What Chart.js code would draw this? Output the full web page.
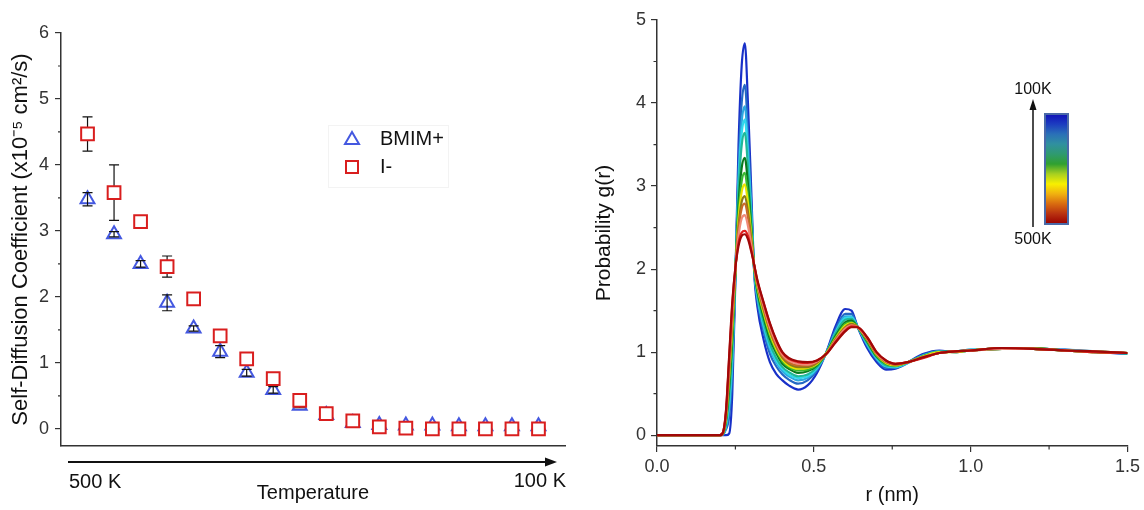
<!DOCTYPE html>
<html>
<head>
<meta charset="utf-8">
<script src="https://cdn.jsdelivr.net/npm/chart.js@4.4.1/dist/chart.umd.min.js"></script>
<style>
  html, body { margin: 0; padding: 0; background: #fff; }
  #wrap { position: relative; width: 1144px; height: 510px; }
  #diffChart { position: absolute; left: 0; top: 0; }
  #rdfChart { position: absolute; left: 580px; top: 0; }
</style>
</head>
<body>
<div id="wrap">
  <canvas id="diffChart" width="580" height="510"></canvas>
  <canvas id="rdfChart" width="564" height="510"></canvas>
</div>
<script>
// ---- left panel: self-diffusion, hot (500 K) on the left -> cold (100 K) on the right
const tempSteps = [1, 2, 3, 4, 5, 6, 7, 8, 9, 10, 11, 12, 13, 14, 15, 16, 17, 18];
const bmimD   = [3.48, 2.95, 2.50, 1.91, 1.52, 1.17, 0.85, 0.59, 0.35, 0.21, 0.09, 0.06, 0.05, 0.05, 0.04, 0.04, 0.04, 0.04];
const bmimErr = [0.10, 0.04, 0.05, 0.12, 0.04, 0.09, 0.05, 0.05, 0.03, 0.02, 0.02, 0.01, 0.01, 0.01, 0.01, 0.01, 0.01, 0.01];
const iodD    = [4.47, 3.58, 3.14, 2.46, 1.97, 1.41, 1.06, 0.76, 0.43, 0.23, 0.12, 0.03, 0.01, 0.00, 0.00, 0.00, 0.00, 0.00];
const iodErr  = [0.26, 0.42, 0.08, 0.16, 0.02, 0.08, 0.03, 0.02, 0.02, 0.02, 0.01, 0.01, 0.01, 0.01, 0.01, 0.01, 0.01, 0.01];
const diffTicks = [0, 1, 2, 3, 4, 5, 6];
const diffMinor = [0.5, 1.5, 2.5, 3.5, 4.5, 5.5];

// ---- right panel: g(r), rdf1 = 500K (dark red) ... rdf13 = 100K (dark blue)
const rNm = [0, 0.19, 0.20, 0.21, 0.22, 0.23, 0.24, 0.25, 0.26, 0.27, 0.28, 0.29, 0.30, 0.31, 0.32, 0.34, 0.36, 0.38, 0.40, 0.42,
             0.45, 0.48, 0.51, 0.54, 0.57, 0.60, 0.62, 0.64, 0.67, 0.70, 0.73, 0.76, 0.80, 0.85, 0.90, 0.95, 1.00, 1.10, 1.20, 1.30, 1.40, 1.50];
const rdf1  = [0,0,0,0.03,0.30,0.95,1.60,2.02,2.28,2.40,2.42,2.36,2.22,2.05,1.87,1.60,1.35,1.15,1.00,0.93,0.89,0.88,0.90,0.98,1.12,1.25,1.30,1.30,1.18,1.00,0.90,0.86,0.88,0.94,0.99,1.01,1.02,1.05,1.04,1.02,1.01,0.99];
const rdf2  = [0,0,0,0.03,0.29,0.92,1.57,2.02,2.32,2.44,2.46,2.40,2.24,2.05,1.86,1.59,1.34,1.14,0.99,0.92,0.88,0.87,0.90,0.98,1.13,1.26,1.31,1.30,1.18,1.00,0.90,0.86,0.88,0.93,0.99,1.01,1.02,1.05,1.04,1.02,1.00,0.99];
const rdf3  = [0,0,0,0.03,0.27,0.86,1.49,2.01,2.40,2.61,2.65,2.52,2.30,2.04,1.84,1.56,1.30,1.11,0.97,0.90,0.86,0.85,0.89,0.98,1.14,1.28,1.32,1.30,1.17,0.99,0.89,0.86,0.88,0.94,0.99,1.01,1.02,1.04,1.04,1.02,1.01,0.99];
const rdf4  = [0,0,0,0.03,0.25,0.80,1.42,2.00,2.48,2.73,2.79,2.62,2.34,2.03,1.82,1.53,1.27,1.08,0.95,0.88,0.84,0.84,0.88,0.98,1.15,1.29,1.33,1.30,1.16,0.98,0.88,0.85,0.88,0.94,0.99,1.01,1.02,1.05,1.04,1.02,1.00,0.99];
const rdf5  = [0,0,0,0.02,0.24,0.76,1.38,2.00,2.52,2.81,2.88,2.69,2.38,2.03,1.81,1.51,1.26,1.07,0.93,0.86,0.82,0.82,0.87,0.98,1.16,1.30,1.34,1.30,1.15,0.98,0.88,0.85,0.88,0.94,0.99,1.01,1.02,1.04,1.05,1.02,1.01,0.99];
const rdf6  = [0,0,0,0.02,0.22,0.71,1.31,1.99,2.60,2.93,3.02,2.79,2.42,2.02,1.79,1.48,1.23,1.04,0.91,0.84,0.80,0.81,0.86,0.99,1.17,1.32,1.35,1.30,1.15,0.97,0.87,0.84,0.88,0.95,1.00,1.00,1.02,1.05,1.04,1.02,1.00,0.99];
const rdf7  = [0,0,0,0.02,0.20,0.65,1.25,1.98,2.67,3.06,3.16,2.88,2.47,2.02,1.77,1.46,1.20,1.02,0.89,0.82,0.78,0.79,0.85,0.99,1.18,1.34,1.36,1.30,1.14,0.96,0.86,0.84,0.88,0.95,0.99,1.01,1.02,1.04,1.05,1.02,1.01,0.99];
const rdf8  = [0,0,0,0.02,0.18,0.58,1.16,1.97,2.77,3.22,3.34,3.02,2.53,2.01,1.74,1.42,1.16,0.99,0.86,0.80,0.75,0.77,0.84,0.99,1.20,1.36,1.38,1.30,1.13,0.95,0.86,0.84,0.88,0.95,1.00,1.01,1.02,1.05,1.04,1.02,1.00,0.99];
const rdf9  = [0,0,0,0.01,0.14,0.46,1.02,1.96,2.93,3.49,3.64,3.23,2.63,2.00,1.70,1.36,1.10,0.93,0.82,0.76,0.71,0.73,0.82,0.99,1.23,1.39,1.40,1.30,1.11,0.94,0.84,0.83,0.88,0.96,1.01,1.00,1.02,1.05,1.04,1.02,1.01,0.98];
const rdf10 = [0,0,0,0.01,0.12,0.39,0.94,1.95,3.01,3.63,3.80,3.34,2.69,1.99,1.68,1.33,1.07,0.90,0.80,0.73,0.69,0.71,0.81,0.99,1.24,1.41,1.42,1.30,1.10,0.93,0.83,0.82,0.87,0.96,1.00,1.01,1.03,1.04,1.05,1.02,1.00,0.99];
const rdf11 = [0,0,0,0.01,0.10,0.33,0.86,1.94,3.10,3.77,3.96,3.46,2.74,1.98,1.66,1.30,1.04,0.88,0.77,0.71,0.66,0.69,0.80,0.99,1.25,1.43,1.43,1.30,1.09,0.92,0.83,0.82,0.88,0.96,1.01,1.00,1.02,1.05,1.04,1.03,1.01,0.98];
const rdf12 = [0,0,0,0.01,0.07,0.22,0.74,1.93,3.23,4.00,4.22,3.64,2.83,1.97,1.62,1.25,0.98,0.83,0.73,0.67,0.62,0.66,0.78,1.00,1.28,1.46,1.46,1.30,1.08,0.91,0.81,0.81,0.87,0.97,1.01,1.01,1.03,1.04,1.05,1.02,1.00,0.99];
const rdf13 = [0,0,0,0,0,0.02,0.50,1.90,3.50,4.45,4.72,4.00,3.00,1.95,1.55,1.15,0.88,0.74,0.66,0.60,0.55,0.60,0.75,1.00,1.32,1.52,1.50,1.30,1.05,0.88,0.79,0.80,0.88,0.98,1.02,1.00,1.02,1.05,1.04,1.03,1.00,0.98];
const rdfCurves = [rdf1, rdf2, rdf3, rdf4, rdf5, rdf6, rdf7, rdf8, rdf9, rdf10, rdf11, rdf12, rdf13];
const rdfColors = ['#a00808', '#e02020', '#f08a78', '#c86a28', '#8a7c18', '#e8e400', '#38b830',
                   '#0a7a1e', '#20b898', '#30d8ec', '#2ca8e0', '#2468c4', '#1830c8'];
// colour key, top (100K) to bottom (500K)
const keyColors = ['#1010b8', '#1c3cc0', '#2a70b8', '#3090a0', '#2f9a70', '#30a030', '#a8d020',
                   '#f8f000', '#f0b010', '#d86a10', '#b83010', '#980000'];
const rdfTicksX = [0, 0.5, 1.0, 1.5];
const rdfMinorX = [0.25, 0.75, 1.25];
const rdfTicksY = [0, 1, 2, 3, 4, 5];
const rdfMinorY = [0.5, 1.5, 2.5, 3.5, 4.5];

Chart.defaults.font.family = '"Liberation Sans", Arial, sans-serif';
Chart.defaults.color = '#333';
const AX = '#333';

function setTicks(list) {
  return s => { s.ticks = list.map(v => ({ value: v })); };
}

function drawMinor(chart, xVals, yVals, len) {
  const { ctx, scales: { x, y } } = chart;
  ctx.save();
  ctx.strokeStyle = AX;
  ctx.lineWidth = 1.2;
  ctx.beginPath();
  (xVals || []).forEach(v => {
    const px = x.getPixelForValue(v);
    ctx.moveTo(px, x.top); ctx.lineTo(px, x.top + len);
  });
  (yVals || []).forEach(v => {
    const py = y.getPixelForValue(v);
    ctx.moveTo(y.right, py); ctx.lineTo(y.right - len, py);
  });
  ctx.stroke();
  ctx.restore();
}

function drawErrors(chart, vals, errs) {
  const { ctx, scales: { x, y } } = chart;
  ctx.save();
  ctx.strokeStyle = '#111';
  ctx.lineWidth = 1.2;
  vals.forEach((v, i) => {
    const px = x.getPixelForValue(tempSteps[i]);
    const top = y.getPixelForValue(v + errs[i]);
    const bot = y.getPixelForValue(v - errs[i]);
    ctx.beginPath();
    ctx.moveTo(px, top); ctx.lineTo(px, bot);
    ctx.moveTo(px - 5, top); ctx.lineTo(px + 5, top);
    ctx.moveTo(px - 5, bot); ctx.lineTo(px + 5, bot);
    ctx.stroke();
  });
  ctx.restore();
}

const diffExtras = {
  id: 'diffExtras',
  beforeDatasetDraw(chart, args) {
    if (args.index === 0) drawErrors(chart, iodD, iodErr);
  },
  afterDatasetDraw(chart, args) {
    if (args.index === 1) drawErrors(chart, bmimD, bmimErr);
  },
  afterDraw(chart) {
    const ctx = chart.ctx;
    drawMinor(chart, null, diffMinor, 3);
    ctx.save();
    // legend
    ctx.strokeStyle = '#f3f3f3';
    ctx.lineWidth = 1;
    ctx.strokeRect(328.5, 125.5, 120, 62);
    ctx.lineWidth = 2;
    ctx.strokeStyle = '#4458e0';
    ctx.beginPath();
    ctx.moveTo(352, 132); ctx.lineTo(359, 144); ctx.lineTo(345, 144); ctx.closePath();
    ctx.stroke();
    ctx.strokeStyle = '#d91e1e';
    ctx.strokeRect(346, 161, 12, 12);
    ctx.fillStyle = '#111';
    ctx.font = '20px "Liberation Sans", Arial, sans-serif';
    ctx.textBaseline = 'middle';
    ctx.fillText('BMIM+', 380, 139);
    ctx.fillText('I-', 380, 167);
    // temperature arrow
    ctx.strokeStyle = '#111';
    ctx.lineWidth = 2;
    ctx.beginPath();
    ctx.moveTo(68, 462); ctx.lineTo(548, 462);
    ctx.stroke();
    ctx.beginPath();
    ctx.moveTo(557, 462); ctx.lineTo(545, 457.5); ctx.lineTo(545, 466.5); ctx.closePath();
    ctx.fill();
    ctx.textAlign = 'left';
    ctx.fillText('500 K', 69, 482);
    ctx.textAlign = 'right';
    ctx.fillText('100 K', 566, 481);
    ctx.restore();
  }
};

new Chart(document.getElementById('diffChart'), {
  type: 'scatter',
  data: {
    datasets: [
      {
        label: 'I-',
        data: tempSteps.map((t, i) => ({ x: t, y: iodD[i] })),
        pointStyle: 'rect', pointRadius: 9, pointBorderWidth: 2,
        pointBorderColor: '#d91e1e', pointBackgroundColor: '#fff', order: 1
      },
      {
        label: 'BMIM+',
        data: tempSteps.map((t, i) => ({ x: t, y: bmimD[i] })),
        pointStyle: 'triangle', pointRadius: 8, pointBorderWidth: 2,
        pointBorderColor: '#4458e0', pointBackgroundColor: '#fff', order: 2
      }
    ]
  },
  options: {
    responsive: false, animation: false, devicePixelRatio: 1,
    layout: { padding: { top: 33, right: 15, left: 0, bottom: 0 } },
    plugins: { legend: { display: false }, tooltip: { enabled: false } },
    scales: {
      x: {
        type: 'linear', min: 0, max: 19,
        ticks: { display: false },
        grid: { display: false },
        border: { display: true, color: AX, width: 1.5 },
        title: { display: true, text: 'Temperature', color: '#111', font: { size: 20 }, padding: { top: 0, bottom: 5 } },
        afterFit: s => { s.height = 64; }
      },
      y: {
        min: -0.26, max: 6,
        afterBuildTicks: setTicks(diffTicks),
        ticks: { font: { size: 18 }, padding: 6, color: AX },
        grid: { drawOnChartArea: false, drawTicks: true, tickLength: 6, color: AX, lineWidth: 1.2 },
        border: { display: true, color: AX, width: 1.5 },
        title: { display: true, text: 'Self-Diffusion Coefficient (x10\u207B\u2075 cm\u00B2/s)', color: '#111', font: { size: 22 }, padding: { top: 8, bottom: 0 } },
        afterFit: s => { s.width = 61; }
      }
    }
  },
  plugins: [diffExtras]
});

const rdfExtras = {
  id: 'rdfExtras',
  afterDraw(chart) {
    const ctx = chart.ctx;
    drawMinor(chart, rdfMinorX, rdfMinorY, 3.5);
    ctx.save();
    // colour key for temperature
    const g = ctx.createLinearGradient(0, 114, 0, 224);
    keyColors.forEach((c, i) => g.addColorStop(i / (keyColors.length - 1), c));
    ctx.fillStyle = g;
    ctx.fillRect(465, 114, 23, 110);
    ctx.strokeStyle = '#4a6aa8';
    ctx.lineWidth = 2;
    ctx.strokeRect(465, 114, 23, 110);
    ctx.strokeStyle = '#111';
    ctx.lineWidth = 1.5;
    ctx.beginPath();
    ctx.moveTo(453, 227); ctx.lineTo(453, 108);
    ctx.stroke();
    ctx.fillStyle = '#111';
    ctx.beginPath();
    ctx.moveTo(453, 99); ctx.lineTo(449.5, 110); ctx.lineTo(456.5, 110); ctx.closePath();
    ctx.fill();
    ctx.font = '16px "Liberation Sans", Arial, sans-serif';
    ctx.textAlign = 'center';
    ctx.textBaseline = 'middle';
    ctx.fillText('100K', 453, 90);
    ctx.fillText('500K', 453, 240);
    ctx.restore();
  }
};

new Chart(document.getElementById('rdfChart'), {
  type: 'line',
  data: {
    datasets: rdfCurves.map((c, k) => ({
      data: rNm.map((r, i) => ({ x: r, y: c[i] })),
      borderColor: rdfColors[k],
      borderWidth: 2.2,
      pointRadius: 0,
      fill: false,
      cubicInterpolationMode: 'monotone'
    }))
  },
  options: {
    responsive: false, animation: false, devicePixelRatio: 1,
    layout: { padding: { top: 20, right: 14, left: 0, bottom: 0 } },
    plugins: { legend: { display: false }, tooltip: { enabled: false } },
    scales: {
      x: {
        type: 'linear', min: 0, max: 1.5,
        afterBuildTicks: setTicks(rdfTicksX),
        ticks: { font: { size: 18 }, padding: 4, color: AX, callback: v => v.toFixed(1), maxRotation: 0 },
        grid: { drawOnChartArea: false, drawTicks: true, tickLength: 6, color: AX, lineWidth: 1.2 },
        border: { display: true, color: AX, width: 1.5 },
        title: { display: true, text: 'r (nm)', color: '#111', font: { size: 20 }, padding: { top: 0, bottom: 3 } },
        afterFit: s => { s.height = 64; }
      },
      y: {
        min: -0.13, max: 5,
        afterBuildTicks: setTicks(rdfTicksY),
        ticks: { font: { size: 18 }, padding: 5, color: AX },
        grid: { drawOnChartArea: false, drawTicks: true, tickLength: 6, color: AX, lineWidth: 1.2 },
        border: { display: true, color: AX, width: 1.5 },
        title: { display: true, text: 'Probability g(r)', color: '#111', font: { size: 21 }, padding: { top: 12, bottom: 0 } },
        afterFit: s => { s.width = 77; }
      }
    }
  },
  plugins: [rdfExtras]
});
</script>
</body>
</html>
